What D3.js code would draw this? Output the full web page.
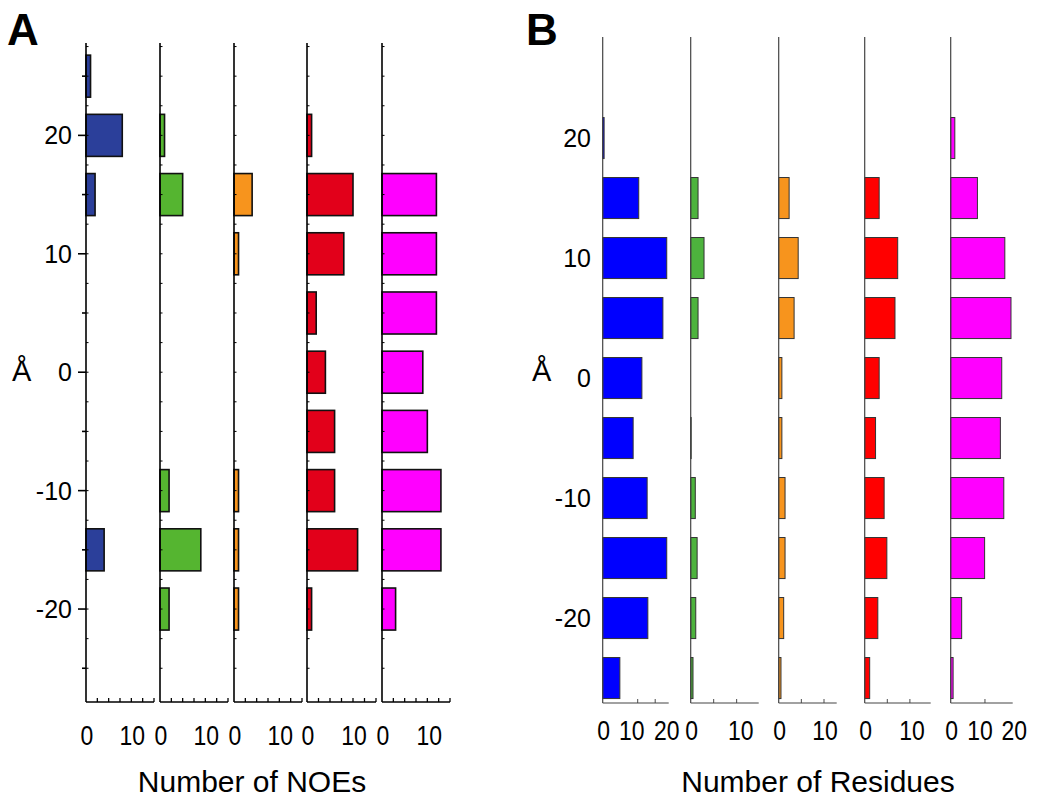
<!DOCTYPE html>
<html>
<head>
<meta charset="utf-8">
<script src="https://cdn.jsdelivr.net/npm/d3@7"></script>
<style>
body{margin:0;background:#fff}
text{font-family:"Liberation Sans",Arial,Helvetica,sans-serif;fill:#000}
</style>
</head>
<body>
<svg id="chart" width="1050" height="798"></svg>
<script>
// Panel A: number of NOEs per 5 Å bin
let binsA = [25, 20, 15, 10, 5, 0, -5, -10, -15, -20];
let blueA    = [1, 8, 2, 0, 0, 0, 0, 0, 4, 0];
let greenA   = [0, 1, 5, 0, 0, 0, 0, 2, 9, 2];
let orangeA  = [0, 0, 4, 1, 0, 0, 0, 1, 1, 1];
let redA     = [0, 1, 10, 8, 2, 4, 6, 6, 11, 1];
let magentaA = [0, 0, 12, 12, 12, 9, 10, 13, 13, 3];

// Panel B: number of residues per 5 Å bin
let binsB = [20, 15, 10, 5, 0, -5, -10, -15, -20, -25];
let blueB    = [0.4, 10.3, 18.3, 17.2, 11.2, 8.7, 12.7, 18.3, 12.9, 4.9];
let greenB   = [0, 1.6, 2.9, 1.6, 0, 0.1, 1.0, 1.4, 1.1, 0.5];
let orangeB  = [0, 2.3, 4.3, 3.4, 0.7, 0.7, 1.4, 1.4, 1.1, 0.5];
let redB     = [0, 3.2, 7.3, 6.7, 3.2, 2.4, 4.3, 4.9, 2.9, 1.1];
let magentaB = [1.2, 7.8, 15.8, 17.6, 14.9, 14.5, 15.5, 9.9, 3.2, 0.7];

let yTickLabels = [20, 10, 0, -10, -20];
let xLabelsA = [0, 10];
let xLabelsB = [[0, 10, 20], [0, 10], [0, 10], [0, 10], [0, 10, 20]];
let xTicksB = [[10, 15], [5, 10], [5, 10], [5, 10], [10]];

let svg = d3.select("#chart");

let panelA = {
  letter: "A", letterX: 7, title: "Number of NOEs", titleX: 252,
  bins: binsA, barH: 3.55,
  y: d3.scaleLinear().domain([-27.85, 27.8]).range([702, 43]),
  axisColor: "#000", axisWidth: 1.6, barStroke: "#111", barStrokeW: 1.6,
  labelBase: 745, ylabelRight: 72, angX: 12,
  subs: [
    {vals: blueA,    color: "#2b3f9a", left: 86,  width: 68, max: 15, ticks: d3.range(2.5, 15.01, 2.5), labels: xLabelsA, shift: 1},
    {vals: greenA,   color: "#55b530", left: 160, width: 68, max: 15, ticks: d3.range(2.5, 15.01, 2.5), labels: xLabelsA, shift: 1},
    {vals: orangeA,  color: "#f7941d", left: 234, width: 68, max: 15, ticks: d3.range(2.5, 15.01, 2.5), labels: xLabelsA, shift: 1},
    {vals: redA,     color: "#e2001a", left: 307, width: 69, max: 15, ticks: d3.range(2.5, 15.01, 2.5), labels: xLabelsA, shift: 1},
    {vals: magentaA, color: "#ff00ff", left: 382, width: 68, max: 15, ticks: d3.range(2.5, 15.01, 2.5), labels: xLabelsA, shift: 2}
  ]
};

let panelB = {
  letter: "B", letterX: 526, title: "Number of Residues", titleX: 818,
  bins: binsB, barH: 3.42,
  y: d3.scaleLinear().domain([-27.08, 28.42]).range([703, 37]),
  axisColor: "#444", axisWidth: 1.2, barStroke: "#333", barStrokeW: 1,
  labelBase: 740, ylabelRight: 591, angX: 532,
  subs: [
    {vals: blueB,    color: "#0000ff", left: 602.7, width: 66, max: 18.86, ticks: xTicksB[0], labels: xLabelsB[0], shift: -6},
    {vals: greenB,   color: "#4db33d", left: 690.7, width: 68, max: 14.8,  ticks: xTicksB[1], labels: xLabelsB[1], shift: 4},
    {vals: orangeB,  color: "#f7941d", left: 778.7, width: 58, max: 12.8,  ticks: xTicksB[2], labels: xLabelsB[2], shift: 1},
    {vals: redB,     color: "#ff0000", left: 864.7, width: 66, max: 14.6,  ticks: xTicksB[3], labels: xLabelsB[3], shift: 2},
    {vals: magentaB, color: "#ff00ff", left: 950.7, width: 62, max: 18.1,  ticks: xTicksB[4], labels: xLabelsB[4], shift: -5}
  ]
};

let drawPanel = (p) => {
  let y = p.y;
  let [yBot, yTop] = y.range();
  let g = svg.append("g");

  p.subs.forEach((s, i) => {
    let x = d3.scaleLinear().domain([0, s.max]).range([s.left, s.left + s.width]);
    let sg = g.append("g");

    // bars
    sg.selectAll("rect")
      .data(p.bins.map((b, k) => ({bin: b, v: s.vals[k]})).filter(d => d.v > 0))
      .enter()
      .append("rect")
      .attr("x", x(0))
      .attr("y", d => y(d.bin + p.barH / 2))
      .attr("width", d => x(d.v) - x(0))
      .attr("height", d => y(d.bin - p.barH / 2) - y(d.bin + p.barH / 2))
      .attr("fill", s.color)
      .attr("stroke", p.barStroke)
      .attr("stroke-width", p.barStrokeW);

    // vertical axis line
    sg.append("line")
      .attr("x1", x(0)).attr("x2", x(0))
      .attr("y1", yTop).attr("y2", yBot)
      .attr("stroke", p.axisColor).attr("stroke-width", p.axisWidth);

    // bottom axis line
    sg.append("line")
      .attr("x1", x(0)).attr("x2", x(s.max))
      .attr("y1", yBot).attr("y2", yBot)
      .attr("stroke", p.axisColor).attr("stroke-width", p.axisWidth);

    sg.selectAll(".xt")
      .data(s.ticks)
      .enter()
      .append("line")
      .attr("x1", d => x(d)).attr("x2", d => x(d))
      .attr("y1", yBot).attr("y2", yBot - 4)
      .attr("stroke", p.axisColor).attr("stroke-width", p.axisWidth * 0.8);

    // x tick labels (condensed look)
    sg.selectAll(".xl")
      .data(s.labels)
      .enter()
      .append("text")
      .attr("transform", d => "translate(" + (x(d) + (d > 0 ? s.shift : 1)) + "," + p.labelBase + ") scale(0.82,1)")
      .attr("text-anchor", "middle")
      .style("font-size", "28px")
      .text(d => d);

    // small ticks along vertical axes of panel A
    if (p.letter === "A") {
      sg.selectAll(".mt")
        .data(d3.range(-25, 27.6, 2.5))
        .enter()
        .append("line")
        .attr("x1", x(0)).attr("x2", x(0) + 2.5)
        .attr("y1", d => y(d)).attr("y2", d => y(d))
        .attr("stroke", "#000").attr("stroke-width", 1);
    }

    if (i === 0) {
      if (p.letter === "A") {
        sg.selectAll(".yt")
          .data(d3.range(-25, 25.1, 5))
          .enter()
          .append("line")
          .attr("x1", x(0)).attr("x2", d => x(0) - (d % 10 === 0 ? 8 : 4))
          .attr("y1", d => y(d)).attr("y2", d => y(d))
          .attr("stroke", "#000").attr("stroke-width", 1.6);
      }
      sg.selectAll(".yl")
        .data(yTickLabels)
        .enter()
        .append("text")
        .attr("x", p.ylabelRight)
        .attr("y", d => y(d))
        .attr("dy", "0.36em")
        .attr("text-anchor", "end")
        .style("font-size", "25px")
        .text(d => d);
    }
  });

  // panel letter
  g.append("text")
    .attr("x", p.letterX).attr("y", 45)
    .style("font-size", "44px").style("font-weight", "bold")
    .text(p.letter);

  // Å label
  g.append("text")
    .attr("x", p.angX).attr("y", 381)
    .style("font-size", "29px")
    .text("Å");

  // axis title
  g.append("text")
    .attr("x", p.titleX).attr("y", 792)
    .attr("text-anchor", "middle")
    .style("font-size", "30px")
    .text(p.title);
};

drawPanel(panelA);
drawPanel(panelB);
</script>
</body>
</html>
